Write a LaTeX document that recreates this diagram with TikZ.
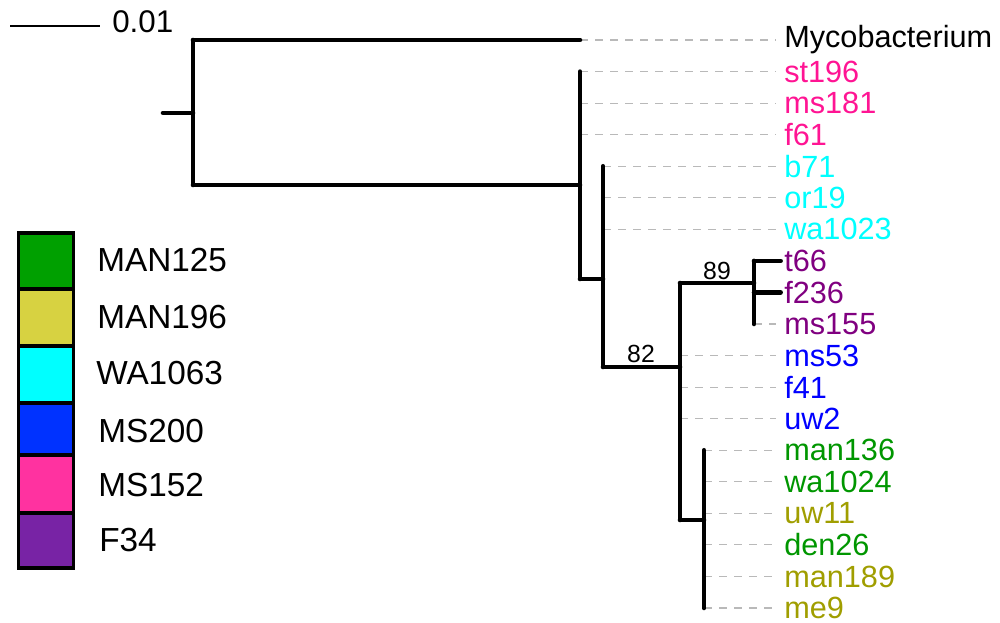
\documentclass[tikz,border=0pt]{standalone}
\usepackage{fontspec}
\setmainfont{Liberation Sans}
\definecolor{pinkL}{RGB}{255,20,147}
\definecolor{cyanL}{RGB}{0,255,255}
\definecolor{purpL}{RGB}{128,0,128}
\definecolor{blueL}{RGB}{0,0,255}
\definecolor{greenL}{RGB}{0,150,0}
\definecolor{oliveL}{RGB}{160,158,0}
\definecolor{lgray}{RGB}{185,185,185}
\definecolor{kGreen}{RGB}{0,160,0}
\definecolor{kYellow}{RGB}{215,210,65}
\definecolor{kCyan}{RGB}{0,255,255}
\definecolor{kBlue}{RGB}{0,50,255}
\definecolor{kPink}{RGB}{255,50,160}
\definecolor{kPurple}{RGB}{120,35,165}
\begin{document}
\begin{tikzpicture}[x={(0.75pt,0)},y={(0,-0.75pt)},
  branch/.style={line width=3.4pt, line cap=round},
  leafdash/.style={draw=lgray, line width=0.8pt, dash pattern=on 6pt off 5.25pt},
  leaf/.style={anchor=west, inner sep=0pt, font=\fontsize{23}{27}\selectfont},
  boot/.style={inner sep=0pt, font=\fontsize{18.6}{22}\selectfont},
  legbox/.style={draw=black, line width=2.3pt, minimum width=41.25pt, inner sep=0pt},
  legtext/.style={anchor=west, inner sep=0pt, font=\fontsize{25}{30}\selectfont}]
\useasboundingbox (0,0) rectangle (1000,622);

% scale bar
\coordinate (sb1) at (10,26);
\coordinate (sb2) at (100,26);
\draw[line width=1.8pt] (sb1) -- (sb2);
\node[anchor=west, inner sep=0pt, font=\fontsize{23.5}{28}\selectfont] (sbl) at (112,22) {0.01};

% internal nodes
\coordinate (root0) at (163,113);
\coordinate (root) at (193,113);
\coordinate (rtop) at (193,40);
\coordinate (rbot) at (193,185);
\coordinate (n1) at (580,185);
\coordinate (n1b) at (580,279);
\coordinate (n2) at (603,279);
\coordinate (n2b) at (603,367);
\coordinate (n3) at (680,367);
\coordinate (n3t) at (680,283);
\coordinate (n3b) at (680,520);
\coordinate (n4) at (754,283);
\coordinate (n5) at (704,520);

% leaves with dashed connectors
\foreach \n/\i/\tx/\c [evaluate=\i as \yy using 40+31.556*\i] in
  {Mycobacterium/0/580/black, st196/1/580/pinkL, ms181/2/580/pinkL, f61/3/580/pinkL,
   b71/4/603/cyanL, or19/5/603/cyanL, wa1023/6/603/cyanL,
   ms155/9/754/purpL, ms53/10/680/blueL, f41/11/680/blueL, uw2/12/680/blueL,
   man136/13/704/greenL, wa1024/14/704/greenL, uw11/15/704/oliveL,
   den26/16/704/greenL, man189/17/704/oliveL, me9/18/704/oliveL}{
  \coordinate (tip-\n) at (\tx,\yy);
  \node[leaf, text=\c] (\n) at (784,\yy) {\n};
  \draw[leafdash] (tip-\n) -- ([xshift=-6pt]\n.west);
}
% leaves with solid branches
\foreach \n/\i [evaluate=\i as \yy using 40+31.556*\i] in {t66/7, f236/8}{
  \node[leaf, text=purpL] (\n) at (784,\yy) {\n};
  \coordinate (tip-\n) at (754,\yy);
  \draw[branch] (tip-\n) -- ([xshift=-2.5pt]\n.west);
}

% tree branches
\draw[branch] (root0) -- (root);
\draw[branch] (rtop) -- (rbot);
\draw[branch] (rtop) -- (tip-Mycobacterium);
\draw[branch] (rbot) -- (n1);
\draw[branch] (tip-st196) -- (n1b);
\draw[branch] (n1b) -- (n2);
\draw[branch] (tip-b71) -- (n2b);
\draw[branch] (n2b) -- (n3);
\draw[branch] (n3t) -- (n3b);
\draw[branch] (n3t) -- (n4);
\draw[branch] (tip-t66) -- (tip-ms155);
\draw[branch] (n3b) -- (n5);
\draw[branch] (tip-man136) -- (tip-me9);

% bootstrap values
\node[boot] (bs82) at (641,353.5) {82};
\node[boot] (bs89) at (717,271) {89};

% legend
\node[legbox, fill=kGreen, minimum height=42pt] (k1) at (46,261) {};
\node[legbox, fill=kYellow, minimum height=42.75pt] (k2) at (46,317.5) {};
\node[legbox, fill=kCyan, minimum height=42.75pt] (k3) at (46,374.5) {};
\node[legbox, fill=kBlue, minimum height=39pt] (k4) at (46,429) {};
\node[legbox, fill=kPink, minimum height=43.5pt] (k5) at (46,484) {};
\node[legbox, fill=kPurple, minimum height=41.25pt] (k6) at (46,540.5) {};
\node[legtext] (t1) at (97,260) {MAN125};
\node[legtext] (t2) at (97,317) {MAN196};
\node[legtext] (t3) at (96,373.5) {WA1063};
\node[legtext] (t4) at (98,431) {MS200};
\node[legtext] (t5) at (98,485) {MS152};
\node[legtext] (t6) at (99,540.5) {F34};
\end{tikzpicture}
\end{document}
